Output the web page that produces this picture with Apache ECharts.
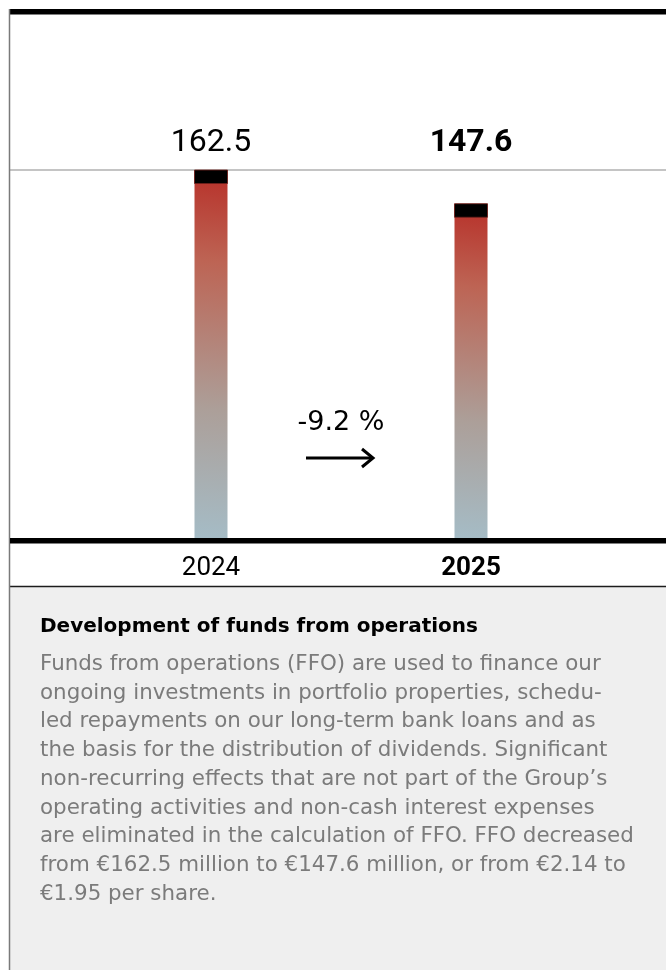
<!DOCTYPE html>
<html>
<head>
<meta charset="utf-8">
<title>Funds from operations</title>
<script src="https://cdn.jsdelivr.net/npm/echarts@6/dist/echarts.min.js"></script>
<style>
  html, body { margin: 0; padding: 0; background: #ffffff; }
  #chart { width: 666px; height: 970px; }
</style>
</head>
<body>
<div id="chart"></div>
<script>
// FFO in € million per financial year
const years = ['2024', '2025'];
const ffoValues = [162.5, 147.6];
// the current year is set in bold
const boldYear = '2025';

const panelTitle = 'Development of funds from operations';
const panelLines = [
  'Funds from operations (FFO) are used to finance our',
  'ongoing investments in portfolio properties, schedu-',
  'led repayments on our long-term bank loans and as',
  'the basis for the distribution of dividends. Significant',
  'non-recurring effects that are not part of the Group\u2019s',
  'operating activities and non-cash interest expenses',
  'are eliminated in the calculation of FFO. FFO decreased',
  'from \u20ac162.5 million to \u20ac147.6 million, or from \u20ac2.14 to',
  '\u20ac1.95 per share.'
];

const FONT = 'Roboto, "Noto Sans", sans-serif';
const TEXT_FONT = '"DejaVu Sans", Roboto, sans-serif';
const BAR_W = 33;
const CAP_H = 13.5;

const chart = echarts.init(document.getElementById('chart'), null, { renderer: 'canvas' });

const fmt = v => v.toFixed(1);
const change = (ffoValues[1] / ffoValues[0] - 1) * 100;
const changeText = change.toFixed(1) + ' %';

const barGradient = new echarts.graphic.LinearGradient(0, 1, 1, 0, [
  { offset: 0, color: '#a5bcc6' },
  { offset: 0.35, color: '#ac9f99' },
  { offset: 0.75, color: '#bd6454' },
  { offset: 1, color: '#b72f28' }
]);

chart.setOption({
  animation: false,
  grid: { left: 81, right: 65, top: 170, bottom: 432 },
  xAxis: [
    {
      type: 'category',
      position: 'bottom',
      data: years.map(y => ({
        value: y,
        textStyle: { fontWeight: y === boldYear ? 'bold' : 'normal' }
      })),
      axisLine: { show: false },
      axisTick: { show: false },
      axisLabel: { fontFamily: FONT, fontSize: 26, color: '#000', margin: 17 }
    },
    {
      type: 'category',
      position: 'top',
      data: ffoValues.map((v, i) => ({
        value: fmt(v),
        textStyle: { fontWeight: years[i] === boldYear ? 'bold' : 'normal' }
      })),
      axisLine: { show: false },
      axisTick: { show: false },
      axisLabel: { fontFamily: FONT, fontSize: 32, color: '#000', margin: 11 }
    }
  ],
  yAxis: {
    type: 'value', min: 0, max: 'dataMax', show: false,
    splitLine: { show: false }
  },
  series: [
    {
      name: 'FFO',
      type: 'bar',
      xAxisIndex: 0,
      barWidth: BAR_W,
      data: ffoValues,
      itemStyle: { color: barGradient },
      z: 2
    },
    {
      // black cap sitting on top of each bar
      name: 'cap',
      type: 'custom',
      xAxisIndex: 0,
      data: ffoValues.map((v, i) => [i, v]),
      renderItem: (params, api) => {
        const p = api.coord([api.value(0), api.value(1)]);
        return {
          type: 'rect',
          shape: { x: p[0] - BAR_W / 2, y: p[1], width: BAR_W, height: CAP_H },
          style: { fill: '#000', stroke: '#6e211c', lineWidth: 0.8 }
        };
      },
      z: 3
    }
  ]
});

// frame, reference line, change arrow and text panel
const y0 = chart.convertToPixel({ yAxisIndex: 0 }, 0);
const yRef = chart.convertToPixel({ yAxisIndex: 0 }, ffoValues[0]);
const x1 = chart.convertToPixel({ xAxisIndex: 0 }, years[0]);
const x2 = chart.convertToPixel({ xAxisIndex: 0 }, years[1]);
const xm = (x1 + x2) / 2;

const graphics = [
  { type: 'rect', silent: true, z: -10, shape: { x: 10, y: 587, width: 656, height: 383 }, style: { fill: '#efefef' } },
  { type: 'line', silent: true, shape: { x1: 10, y1: 586.5, x2: 666, y2: 586.5 }, style: { stroke: '#1c1c1c', lineWidth: 1.5 } },
  { type: 'rect', silent: true, shape: { x: 9, y: 9, width: 657, height: 5.5 }, style: { fill: '#000' } },
  { type: 'line', silent: true, shape: { x1: 9.5, y1: 9, x2: 9.5, y2: 970 }, style: { stroke: '#7a7a7a', lineWidth: 1.5 } },
  { type: 'line', silent: true, z: 1, shape: { x1: 10, y1: yRef, x2: 666, y2: yRef }, style: { stroke: '#8a8a8a', lineWidth: 1.2 } },
  { type: 'rect', silent: true, z: 5, shape: { x: 10, y: y0, width: 656, height: 5.5 }, style: { fill: '#000' } },
  {
    type: 'text', silent: true, x: xm, y: 423,
    style: { text: changeText, font: '27px ' + TEXT_FONT, fill: '#000', align: 'center', verticalAlign: 'middle' }
  },
  { type: 'line', silent: true, shape: { x1: 306, y1: 458, x2: 372, y2: 458 }, style: { stroke: '#000', lineWidth: 3 } },
  { type: 'polyline', silent: true, shape: { points: [[362, 449], [373, 458], [362, 467]] }, style: { stroke: '#000', lineWidth: 3, fill: null } },
  {
    type: 'text', silent: true, x: 40, y: 627,
    style: { text: panelTitle, font: 'bold 20px ' + TEXT_FONT, fill: '#000', verticalAlign: 'middle' }
  }
];
panelLines.forEach((t, i) => {
  graphics.push({
    type: 'text', silent: true, x: 40, y: 664.5 + i * 28.7,
    style: { text: t, font: '21.4px ' + TEXT_FONT, fill: '#7b7b7b', verticalAlign: 'middle' }
  });
});
chart.setOption({ graphic: graphics });
</script>
</body>
</html>
